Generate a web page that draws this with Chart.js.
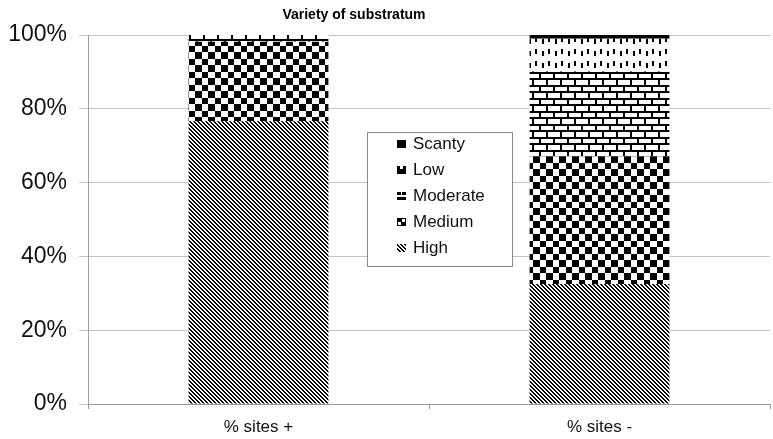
<!DOCTYPE html>
<html>
<head>
<meta charset="utf-8">
<script src="https://cdn.jsdelivr.net/npm/chart.js@4.4.1/dist/chart.umd.min.js"></script>
<style>
  html, body { margin: 0; padding: 0; background: #fff; }
  #wrap { width: 773px; height: 439px; position: relative; }
</style>
</head>
<body>
<div id="wrap"><canvas id="c" width="773" height="439"></canvas></div>
<script>
// ---- data ----
const chartTitle = 'Variety of substratum';
const categories = ['% sites +', '% sites -'];
const seriesNames = ['High', 'Medium', 'Moderate', 'Low', 'Scanty'];
const high = [76.6, 32.5];
const medium = [21.6, 34.6];
const moderate = [1.8, 23.0];
const low = [0, 8.9];
const scanty = [0, 1.0];
const yTickValues = [0, 20, 40, 60, 80, 100];

const canvas = document.getElementById('c');
const ctx = canvas.getContext('2d');

function tile(w, h, draw) {
  const c = document.createElement('canvas');
  c.width = w; c.height = h;
  const g = c.getContext('2d');
  g.fillStyle = '#fff'; g.fillRect(0, 0, w, h);
  g.fillStyle = '#000';
  draw(g);
  return ctx.createPattern(c, 'repeat');
}
const patHigh = tile(4, 4, g => {
  for (let y = 0; y < 4; y++) for (let x = 0; x < 4; x++)
    if (((x - y) % 4 + 4) % 4 < 2) g.fillRect(x, y, 1, 1);
});
const patMedium = tile(13, 13, g => {
  g.fillRect(0, 0, 7, 7); g.fillRect(7, 7, 6, 6);
});
const patModerate = tile(14, 13, g => {
  g.fillRect(0, 0, 14, 2); g.fillRect(0, 2, 2, 5);
  g.fillRect(0, 7, 14, 2); g.fillRect(7, 9, 2, 4);
});
const patLow = tile(13, 12, g => {
  g.fillRect(2, 1, 2, 5); g.fillRect(9, 3, 2, 5);
});
const patScanty = '#000';

const seriesData = [high, medium, moderate, low, scanty];
const seriesFill = [patHigh, patMedium, patModerate, patLow, patScanty];

const titlePlugin = {
  id: 'titleText',
  afterDraw(chart) {
    const c = chart.ctx, a = chart.chartArea;
    c.save();
    c.font = 'bold 14px "Liberation Sans", Arial, sans-serif';
    c.fillStyle = '#000';
    c.textAlign = 'center';
    c.textBaseline = 'alphabetic';
    c.fillText(chartTitle, a.left + (a.right - a.left) * 0.39, 19);
    c.restore();
  }
};

const legendPlugin = {
  id: 'boxLegend',
  afterDraw(chart) {
    const c = chart.ctx;
    const bx = 367.5, by = 132.5, bw = 145, bh = 134;
    c.save();
    c.fillStyle = '#fff';
    c.fillRect(bx, by, bw, bh);
    c.strokeStyle = '#8a8a8a';
    c.lineWidth = 1;
    c.strokeRect(bx, by, bw, bh);
    const order = [4, 3, 2, 1, 0];
    const ix = 397, tx = 413;
    c.font = '17px "Liberation Sans", Arial, sans-serif';
    c.textBaseline = 'middle';
    c.textAlign = 'left';
    order.forEach((di, k) => {
      const cy = 144 + k * 26;
      const iy = cy - 4;
      const ds = chart.data.datasets[di];
      // icon
      c.save();
      c.beginPath(); c.rect(ix, iy, 9, 8); c.clip();
      c.fillStyle = '#fff'; c.fillRect(ix, iy, 9, 8);
      c.fillStyle = '#000';
      if (di === 4) { c.fillRect(ix, iy, 9, 8); }
      else if (di === 3) { c.fillRect(ix, iy, 9, 8); c.fillStyle = '#fff'; c.fillRect(ix + 3, iy, 3, 3); }
      else if (di === 2) { c.fillRect(ix, iy, 9, 8); c.fillStyle = '#fff'; c.fillRect(ix + 4, iy, 1, 3); c.fillRect(ix, iy + 3, 9, 2); }
      else if (di === 1) { c.fillRect(ix, iy, 9, 8); c.fillStyle = '#fff'; c.fillRect(ix + 1, iy + 1, 7, 6); c.fillStyle = '#000'; c.fillRect(ix, iy, 5, 4); c.fillRect(ix + 4, iy + 4, 5, 4); }
      else { c.fillStyle = patHigh; c.fillRect(ix, iy, 9, 8); }
      c.restore();
      c.fillStyle = '#111';
      c.fillText(ds.label, tx, cy);
    });
    c.restore();
  }
};

new Chart(ctx, {
  type: 'bar',
  data: {
    labels: categories,
    datasets: seriesNames.map((n, i) => ({
      label: n,
      data: seriesData[i],
      backgroundColor: seriesFill[i],
      borderWidth: 0,
      categoryPercentage: 1.0,
      barPercentage: 0.41
    }))
  },
  options: {
    responsive: false,
    animation: false,
    devicePixelRatio: 1,
    layout: { padding: { top: 35, right: 3, left: 0, bottom: 0 } },
    plugins: { legend: { display: false }, title: { display: false }, tooltip: { enabled: false } },
    scales: {
      x: {
        stacked: true,
        grid: { drawOnChartArea: false, offset: true, color: '#9a9a9a', tickLength: 5 },
        border: { color: '#9a9a9a' },
        ticks: { color: '#111', font: { family: '"Liberation Sans", Arial, sans-serif', size: 17 }, padding: 8, maxRotation: 0 },
        afterFit(s) { s.height = 35; }
      },
      y: {
        stacked: true,
        min: 0, max: 100,
        afterBuildTicks(s) { s.ticks = yTickValues.map(v => ({ value: v })); },
        grid: { color: '#c4c4c4', tickLength: 9 },
        border: { color: '#a0a0a0' },
        ticks: { color: '#111', font: { family: '"Liberation Sans", Arial, sans-serif', size: 23 }, padding: 12, callback: v => v + '%' },
        afterFit(s) { s.width = 88; }
      }
    }
  },
  plugins: [titlePlugin, legendPlugin]
});
</script>
</body>
</html>
